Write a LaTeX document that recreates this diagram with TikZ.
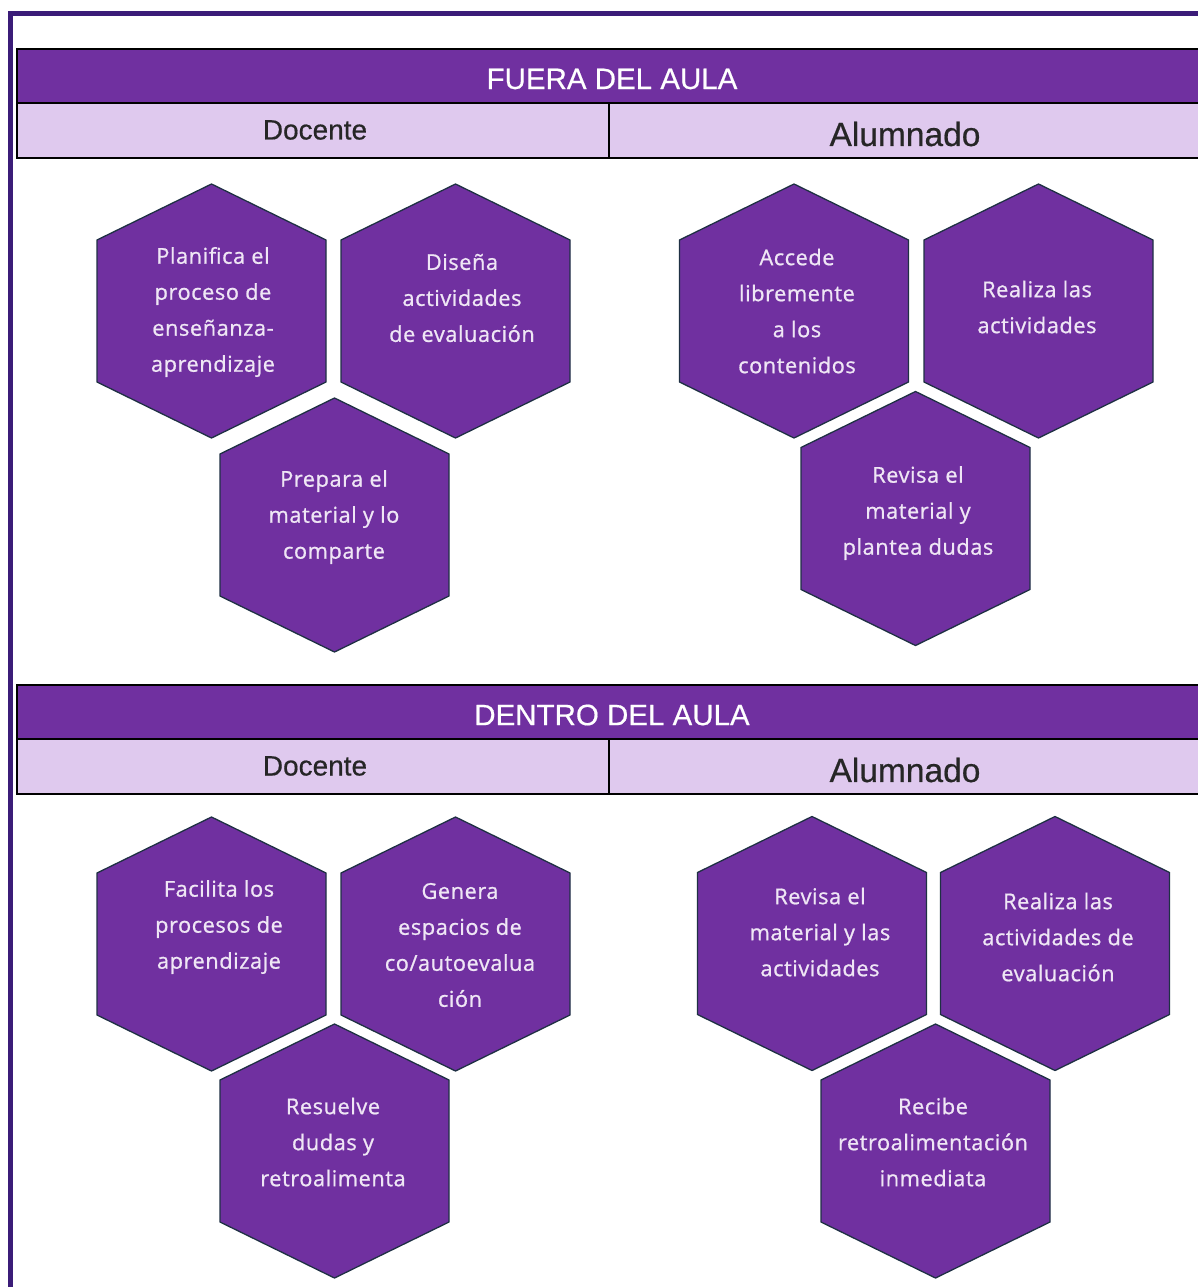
\documentclass[tikz,border=0pt]{standalone}
\usepackage{fontspec}
\setmainfont{Liberation Sans}
\newfontfamily\hexfont[LetterSpace=2.5,FakeBold=0.9]{Open Sans}
\newfontfamily\headfont[FakeBold=0.5]{Liberation Sans}
\definecolor{purp}{HTML}{7030A0}
\definecolor{lav}{HTML}{DFC9EE}
\definecolor{framec}{HTML}{3B1C78}
\definecolor{hexline}{HTML}{1F3044}
\definecolor{hexwhite}{HTML}{EFE6F5}
\newcommand\hexcell[6]{%
  \draw[hexst] (#2,#3) +(0,-127) -- +(114.5,-71) -- +(114.5,71) -- +(0,127) -- +(-114.5,71) -- +(-114.5,-71) -- cycle;
  \node[hextext] (#1) at (#4,#5) {#6};
}
\begin{document}
\begin{tikzpicture}[x=1pt,y=-1pt,
  hexst/.style={fill=purp, draw=hexline, line width=1.3pt, line join=miter},
  hextext/.style={text=hexwhite, align=center, inner sep=0pt, font=\hexfont\fontsize{21.8}{36}\selectfont},
  barbox/.style={fill=purp, draw=black, line width=1.6pt, inner sep=0pt},
  subbox/.style={fill=lav, draw=black, line width=1.6pt, inner sep=0pt},
  bartext/.style={text=white, inner sep=0pt, font=\headfont\fontsize{29.5}{32}\selectfont},
  doctext/.style={text=black!85, inner sep=0pt, font=\headfont\fontsize{28}{30}\selectfont},
  alutext/.style={text=black!85, inner sep=0pt, font=\headfont\fontsize{33.5}{36}\selectfont},
  framest/.style={draw=framec, line width=5pt}
]
\useasboundingbox (0,0) rectangle (1198,1287);
\fill[white] (0,0) rectangle (1198,1287);

% outer frame
\draw[framest] (10.8,1300) -- (10.8,14) -- (1215,14);

% ---- FUERA DEL AULA header
\node[barbox, minimum width=1190pt, minimum height=54pt] (barF) at (612,76) {};
\node[subbox, minimum width=592pt, minimum height=55pt] (docF) at (313,130.5) {};
\node[subbox, minimum width=598pt, minimum height=55pt] (aluF) at (908,130.5) {};
\node[bartext] (tF) at (612,79) {FUERA DEL AULA};
\node[doctext] (tdocF) at (315,130) {Docente};
\node[alutext] (taluF) at (905,134) {Alumnado};

% ---- DENTRO DEL AULA header
\node[barbox, minimum width=1190pt, minimum height=54pt] (barD) at (612,712) {};
\node[subbox, minimum width=592pt, minimum height=55pt] (docD) at (313,766.5) {};
\node[subbox, minimum width=598pt, minimum height=55pt] (aluD) at (908,766.5) {};
\node[bartext] (tD) at (612,715) {DENTRO DEL AULA};
\node[doctext] (tdocD) at (315,766) {Docente};
\node[alutext] (taluD) at (905,770) {Alumnado};

% ---- Fuera: docente
\hexcell{h1}{211.5}{311}{213}{312}{Planifica el\\proceso de\\enseñanza-\\aprendizaje}
\hexcell{h2}{455.5}{311}{462}{298}{Diseña\\actividades\\de evaluación}
\hexcell{h3}{334.5}{525}{334}{517}{Prepara el\\material y lo\\comparte}
% ---- Fuera: alumnado
\hexcell{h4}{794}{311}{797}{311}{Accede\\libremente\\a los\\contenidos}
\hexcell{h5}{1038.5}{311}{1037}{307}{Realiza las\\actividades}
\hexcell{h6}{915.5}{518.5}{918}{513}{Revisa el\\material y\\plantea dudas}
% ---- Dentro: docente
\hexcell{h7}{211.5}{944}{219}{927}{Facilita los\\procesos de\\aprendizaje}
\hexcell{h8}{455.5}{944}{460}{945}{Genera\\espacios de\\co/autoevalua\\ción}
\hexcell{h9}{334.5}{1151}{333}{1142}{Resuelve\\dudas y\\retroalimenta}
% ---- Dentro: alumnado
\hexcell{h10}{812}{943.5}{820}{932}{Revisa el\\material y las\\actividades}
\hexcell{h11}{1055}{943.5}{1058}{937}{Realiza las\\actividades de\\evaluación}
\hexcell{h12}{935.5}{1151}{933}{1142}{Recibe\\retroalimentación\\inmediata}
\end{tikzpicture}
\end{document}
